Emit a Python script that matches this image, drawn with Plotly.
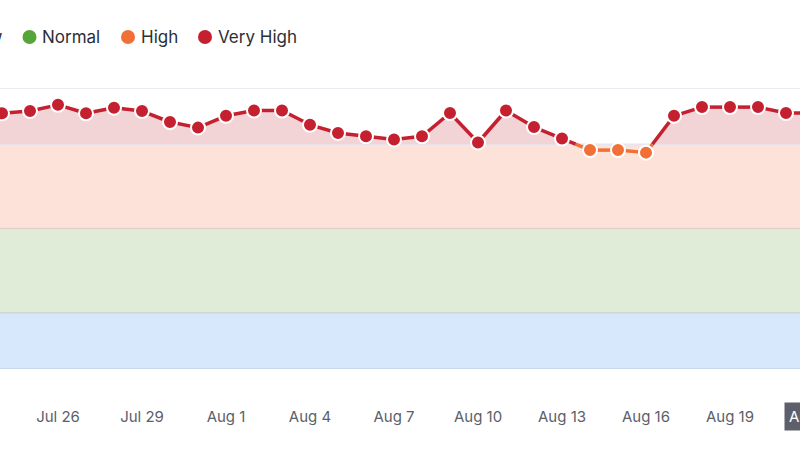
import plotly.graph_objects as go
import pandas as pd

# ---- data ----
start_date = "2024-07-23"
values = [90.5, 91.0, 91.8, 94.0, 91.0, 93.0, 91.8, 87.9, 85.9, 90.1, 92.0,
          92.0, 86.9, 84.0, 82.8, 81.7, 82.8, 91.1, 80.6, 92.0, 86.1,
          82.0, 77.9, 77.9, 77.0, 90.1, 93.2, 93.2, 93.2, 91.1, 91.1]
dates = pd.date_range(start_date, periods=len(values), freq="D")

band_names = ["Low", "Normal", "High", "Very High"]
band_edges = [0, 20, 50, 80, 100]
band_fill = ["#d7e7fc", "#e0ecd8", "#fde2da", "#f2d4d7"]
band_line = ["#c5d3e6", "#cdd9cc", "#e6cfcb", "#e6e6ee"]
level_color = ["#3d7fe0", "#56a53b", "#f07038", "#c4202f"]

tick_labels = ["Jul 26", "Jul 29", "Aug 1", "Aug 4", "Aug 7", "Aug 10",
               "Aug 13", "Aug 16", "Aug 19", "Aug 22"]
tick_dates = pd.date_range("2024-07-26", periods=len(tick_labels), freq="3D")
hover_label = "Aug 22"
hover_date = pd.Timestamp("2024-08-22")

THR = 80  # Very High threshold


def level(v):
    for k in range(len(band_edges) - 2, -1, -1):
        if v >= band_edges[k]:
            return k
    return 0


# ---- build coloured line segments and clipped fill ----
seg = {k: ([], []) for k in range(4)}
fill_x, fill_y = [], []
for i in range(len(values) - 1):
    x0, x1 = dates[i], dates[i + 1]
    v0, v1 = values[i], values[i + 1]
    l0, l1 = level(v0), level(v1)
    fill_x.append(x0)
    fill_y.append(max(v0, THR))
    if l0 == l1:
        seg[l0][0].extend([x0, x1, None])
        seg[l0][1].extend([v0, v1, None])
    else:
        t = (THR - v0) / (v1 - v0)
        xc = x0 + (x1 - x0) * t
        seg[l0][0].extend([x0, xc, None])
        seg[l0][1].extend([v0, THR, None])
        seg[l1][0].extend([xc, x1, None])
        seg[l1][1].extend([THR, v1, None])
        fill_x.append(xc)
        fill_y.append(THR)
fill_x.append(dates[-1])
fill_y.append(max(values[-1], THR))

fig = go.Figure()

# Very-high area fill (between threshold and line)
fig.add_trace(go.Scatter(
    x=fill_x + fill_x[::-1], y=fill_y + [THR] * len(fill_y),
    fill="toself", fillcolor=band_fill[3], line=dict(width=0),
    mode="lines", hoverinfo="skip", showlegend=False))

for k in range(4):
    if seg[k][0]:
        fig.add_trace(go.Scatter(
            x=seg[k][0], y=seg[k][1], mode="lines",
            line=dict(color=level_color[k], width=3.5),
            hoverinfo="skip", showlegend=False))

fig.add_trace(go.Scatter(
    x=dates, y=values, mode="markers",
    marker=dict(size=14, color=[level_color[level(v)] for v in values],
                line=dict(color="white", width=2)),
    showlegend=False))

# ---- bands ----
shapes = []
for k in range(3):
    shapes.append(dict(type="rect", xref="paper", yref="y", x0=0, x1=1,
                       y0=band_edges[k], y1=band_edges[k + 1],
                       fillcolor=band_fill[k], line=dict(width=0),
                       layer="below"))
for k, e in enumerate(band_edges):
    col = band_line[min(k, 3)]
    shapes.append(dict(type="line", xref="paper", yref="y", x0=0, x1=1,
                       y0=e, y1=e, line=dict(color=col, width=1.5),
                       layer="below"))

# ---- legend (drawn) ----
W, PT, PB = 800, 88, 369


def py(px):
    return (PB - px) / (PB - PT)


legend_pos = [(-45, -33), (29.5, 40), (128, 138.5), (205, 215.5)]
annotations = []
for k, name in enumerate(band_names):
    cx, tx = legend_pos[k]
    shapes.append(dict(type="circle", xref="paper", yref="paper",
                       xsizemode="pixel", ysizemode="pixel",
                       xanchor=cx / W, yanchor=py(37),
                       x0=-7, x1=7, y0=-7, y1=7,
                       fillcolor=level_color[k], line=dict(width=0)))
    annotations.append(dict(xref="paper", yref="paper", x=tx / W, y=py(37),
                            xanchor="left", yanchor="middle", text=name,
                            showarrow=False,
                            font=dict(family="Inter", size=17, color="#2b2f36")))

x_start = dates[1] - pd.Timedelta(days=2 / 28)
x_end = dates[1] + pd.Timedelta(days=798 / 28)

hover_paper = (hover_date - x_start) / (x_end - x_start)
annotations.append(dict(xref="paper", yref="paper", x=hover_paper, y=py(417),
                        xanchor="center", yanchor="middle", text=hover_label,
                        showarrow=False, bgcolor="#5d606b", borderpad=4,
                        font=dict(family="Inter", size=15, color="white")))

fig.update_layout(
    width=800, height=450,
    margin=dict(l=0, r=0, t=PT, b=450 - PB, autoexpand=False),
    paper_bgcolor="white", plot_bgcolor="rgba(0,0,0,0)",
    shapes=shapes, annotations=annotations,
    showlegend=False,
    font=dict(family="Inter"),
    xaxis=dict(range=[x_start, x_end], showgrid=False, zeroline=False,
               showline=False, tickvals=list(tick_dates), ticktext=tick_labels,
               ticks="", ticklabelstandoff=37,
               tickfont=dict(family="Inter", size=15, color="#5b606a")),
    yaxis=dict(range=[0, 100], showgrid=False, zeroline=False,
               showticklabels=False, showline=False, ticks=""),
)

fig.write_html("out.html")
